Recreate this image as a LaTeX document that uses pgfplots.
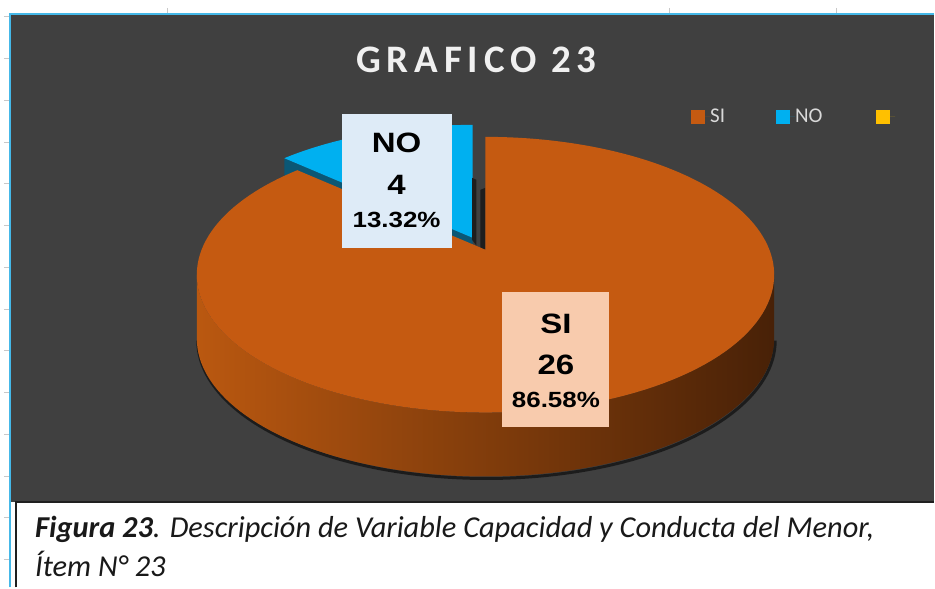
\documentclass[border=0pt]{standalone}
\usepackage{pgfplots}
\pgfplotsset{compat=1.18}
\usepackage{fontspec}
\setmainfont{Carlito}
\newfontfamily\arialfont{Liberation Sans}
\definecolor{panel}{HTML}{404040}
\definecolor{siTop}{HTML}{C55A11}
\definecolor{noTop}{HTML}{00B0F0}
\definecolor{noSide}{HTML}{0B5775}
\definecolor{yel}{HTML}{FFC000}
\definecolor{bblue}{HTML}{45B8E8}
\definecolor{nobox}{HTML}{DEEBF7}
\definecolor{sibox}{HTML}{F8CBAD}
\definecolor{wallL}{HTML}{BA5810}
\definecolor{wallM}{HTML}{522608}
\definecolor{wallR}{HTML}{482107}
\definecolor{tickc}{HTML}{C8C8C8}
\definecolor{legtext}{HTML}{D9D9D9}
\definecolor{titlec}{HTML}{F0F0F0}
\definecolor{strip}{HTML}{1E1E1E}
\def\vSI{26}
\def\vNO{4}
\newcommand\lab[2]{\scalebox{1.18}[1]{\arialfont\bfseries\fontsize{#1}{#1}\selectfont #2}}
\begin{document}
\begin{tikzpicture}
\pgfmathsetmacro\aNO{360*\vNO/(\vSI+\vNO)}
\pgfmathsetmacro\aEnd{90+\aNO}
\begin{axis}[
  scale only axis, width=935pt, height=588pt,
  xmin=0, xmax=935, ymin=0, ymax=588, y dir=reverse,
  hide axis, clip=false,
  declare function={
    hx(\q)=486+289*0.98348*cos(\q)/(1+0.181*sin(\q));
    hy(\q)=275-138*(sin(\q)+0.181)/(1+0.181*sin(\q));
  },
  legend columns=3,
  legend cell align=left,
  legend style={at={(0.7401,0.8010)}, anchor=west, draw=none, fill=none,
    inner sep=0pt, outer sep=0pt, nodes={inner sep=0pt},
    font=\fontsize{21}{21}\selectfont, text=legtext},
  legend image code/.code={\fill[#1] (0pt,-7pt) rectangle (14pt,7pt); \path (0pt,0pt) -- (19pt,0pt);},
]
\addlegendimage{fill=siTop, draw=none}
\addlegendentry{\makebox[66pt][l]{SI}}
\addlegendimage{fill=noTop, draw=none}
\addlegendentry{\makebox[81pt][l]{NO}}
\addlegendimage{fill=yel, draw=none}
\addlegendentry{}

% page background and frame
\fill[white] (axis cs:0,0) rectangle (axis cs:935,588);
\pgfplotsinvokeforeach{17,59,101,143,184,226,268,310,351,393,435,477,518,560}{
  \draw[tickc, line width=1pt] (axis cs:4,#1) -- (axis cs:9,#1);
}
\pgfplotsinvokeforeach{168,670,837}{
  \draw[tickc, line width=1pt] (axis cs:#1,8) -- (axis cs:#1,13);
}
\fill[panel] (axis cs:11,15) rectangle (axis cs:935,503);
\draw[bblue, line width=2pt] (axis cs:10,588) -- (axis cs:10,14) -- (axis cs:935,14);
\draw[black!88, line width=2pt] (axis cs:16,588) -- (axis cs:16,503) -- (axis cs:935,503);

% title
\node[anchor=base, inner sep=0, text=titlec] at (axis cs:477,73) {\fontsize{39}{40}\selectfont\bfseries\addfontfeature{LetterSpace=15}GRAFICO 23};

% NO slice (exploded, behind)
\addplot[forget plot, fill=noSide, draw=none] coordinates {(473,238) (284.6,158.4) (284.6,222.4) (473,302)} -- cycle;
\addplot[forget plot, fill=noTop, draw=none, domain=90:\aEnd, samples=25, variable=\t]
  ({hx(\t)-13},{hy(\t)-12}) -- (axis cs:473,238) -- cycle;
\addplot[forget plot, fill=strip, draw=none] coordinates {(472.5,178) (477,180) (477,246) (472.5,240)} -- cycle;
\addplot[forget plot, fill=strip, draw=none] coordinates {(481,190) (486,188) (486,252) (481,249)} -- cycle;

% SI slice: wall shadow, wall, top face
\addplot[forget plot, draw=black, opacity=0.55, line width=3pt, domain=180:360, samples=91, variable=\t]
  ({486+289*cos(\t)+1},{339-138*sin(\t)+2});
\addplot[forget plot, draw=none, left color=wallL, middle color=wallM, right color=wallR, domain=0:360, samples=181, variable=\t]
  ({486+289*cos(180+\t-2*(\t-180)*(\t>180))},{275-138*sin(180+\t-2*(\t-180)*(\t>180))+64*(\t>180)}) -- cycle;
\addplot[forget plot, fill=siTop, draw=none, domain=\aEnd:450, samples=157, variable=\t]
  ({hx(\t)},{hy(\t)}) -- (axis cs:486,250) -- cycle;

% data labels
\fill[nobox] (axis cs:342,114) rectangle (axis cs:452,248);
\node[anchor=base, inner sep=0] at (axis cs:397,153) {\lab{28}{NO}};
\node[anchor=base, inner sep=0] at (axis cs:397,195) {\lab{28}{4}};
\node[anchor=base, inner sep=0] at (axis cs:397,228) {\lab{22}{13.32\%}};
\fill[sibox] (axis cs:503,292) rectangle (axis cs:610,427);
\node[anchor=base, inner sep=0] at (axis cs:556.5,334) {\lab{28}{SI}};
\node[anchor=base, inner sep=0] at (axis cs:556.5,375) {\lab{28}{26}};
\node[anchor=base, inner sep=0] at (axis cs:556.5,408) {\lab{22}{86.58\%}};

% caption
\node[anchor=base west, inner sep=0, text=black!90] at (axis cs:35,538) {\fontsize{30.4}{36}\selectfont\itshape\textbf{Figura 23}. Descripción de Variable Capacidad y Conducta del Menor,};
\node[anchor=base west, inner sep=0, text=black!90] at (axis cs:35,577) {\fontsize{30.4}{36}\selectfont\itshape Ítem N° 23};
\end{axis}
\end{tikzpicture}
\end{document}
